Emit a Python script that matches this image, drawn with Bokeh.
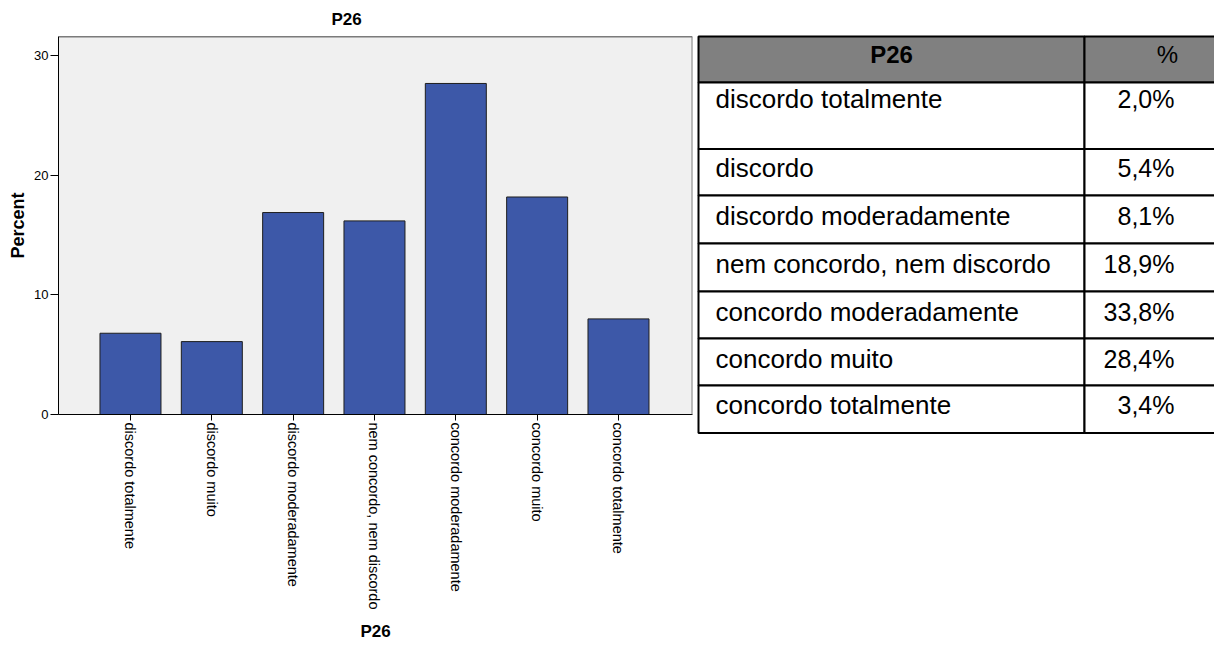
import math
from jinja2 import Template
from bokeh.plotting import figure
from bokeh.models import Range1d, FixedTicker, Span, ColumnDataSource
from bokeh.embed import file_html
from bokeh.resources import INLINE
from bokeh.core.properties import value

# ---------------- data ----------------
categories = ["discordo totalmente", "discordo muito", "discordo moderadamente",
              "nem concordo, nem discordo", "concordo moderadamente",
              "concordo muito", "concordo totalmente"]
percent_values = [6.8, 6.1, 16.9, 16.2, 27.7, 18.2, 8.0]
y_ticks = [0, 10, 20, 30]

table_header = ["P26", "%"]
table_labels = ["discordo totalmente", "discordo", "discordo moderadamente",
                "nem concordo, nem discordo", "concordo moderadamente",
                "concordo muito", "concordo totalmente"]
table_values = ["2,0%", "5,4%", "8,1%", "18,9%", "33,8%", "28,4%", "3,4%"]

FONT = "Liberation Sans"
H = 646

# ---------------- bar chart ----------------
positions = list(range(len(categories)))
src = ColumnDataSource(dict(x=positions, top=percent_values))
y_end = 31.63
x_start, x_end = -0.885, len(categories) - 1 + 0.91

p = figure(width=696, height=H, output_backend="svg", toolbar_location=None,
           x_range=Range1d(x_start, x_end), y_range=Range1d(0, y_end),
           min_border_left=58, min_border_right=4, min_border_top=36,
           min_border_bottom=232)
p.background_fill_color = "#F0F0F0"
p.border_fill_color = "white"
p.outline_line_color = None
p.xgrid.visible = False
p.ygrid.visible = False

p.vbar(x="x", top="top", bottom=0, width=0.75, source=src,
       fill_color="#3D58A8", line_color="#1E1E1E", line_width=1)

p.title.text = "P26"
p.title.align = "left"
p.title.offset = 273
p.title.standoff = 15
p.title.text_font = FONT
p.title.text_font_size = "17px"
p.title.text_font_style = "bold"
p.title.text_color = "black"

p.yaxis.ticker = FixedTicker(ticks=y_ticks)
p.yaxis.minor_tick_line_color = None
p.yaxis.major_tick_out = 8
p.yaxis.major_tick_in = 0
p.yaxis.major_label_standoff = 2
p.yaxis.major_label_text_font = FONT
p.yaxis.major_label_text_font_size = "13px"
p.yaxis.major_label_text_color = "black"
p.yaxis.axis_line_color = "black"
p.yaxis.major_tick_line_color = "black"
p.yaxis.axis_label = "Percent"
p.yaxis.axis_label_text_font = FONT
p.yaxis.axis_label_text_font_size = "18px"
p.yaxis.axis_label_text_font_style = "bold"
p.yaxis.axis_label_text_color = "black"
p.yaxis.axis_label_standoff = 3

p.xaxis.ticker = FixedTicker(ticks=positions)
p.xaxis.major_label_overrides = {i: c for i, c in zip(positions, categories)}
p.xaxis.major_label_orientation = -math.pi / 2
p.xaxis.minor_tick_line_color = None
p.xaxis.major_tick_out = 6
p.xaxis.major_tick_in = 0
p.xaxis.major_label_standoff = 2
p.xaxis.major_label_text_font = FONT
p.xaxis.major_label_text_font_size = "14.5px"
p.xaxis.major_label_text_color = "black"
p.xaxis.axis_line_color = "black"
p.xaxis.major_tick_line_color = "black"
p.xaxis.axis_label = "P26"
p.xaxis.axis_label_text_font = FONT
p.xaxis.axis_label_text_font_size = "17px"
p.xaxis.axis_label_text_font_style = "bold"
p.xaxis.axis_label_text_color = "black"
p.xaxis.axis_label_standoff = 10

p.add_layout(Span(location=y_end, dimension="width", line_color="black", line_width=1.5))
p.add_layout(Span(location=x_end, dimension="height", line_color="#808080", line_width=2))

# ---------------- table ----------------
TW = 518
t = figure(width=TW, height=H, output_backend="svg", toolbar_location=None,
           title=None, x_axis_type=None, y_axis_type=None,
           x_range=Range1d(0, TW), y_range=Range1d(H, 0), min_border=0)
t.outline_line_color = None
t.background_fill_color = "white"
t.border_fill_color = "white"
t.grid.visible = False

col_edges = [2, 388, 560]
table_top = 36
header_h = 46
row_heights = [66.5, 46.5, 48, 48, 47, 47, 47.5]
text_offsets = [16, 19, 20, 20, 20, 20, 19]

row_tops = [table_top]
cur = table_top + header_h
for h in row_heights:
    row_tops.append(cur)
    cur += h
row_bottoms = row_tops[1:] + [cur]

lefts, rights, tops, bottoms, fills = [], [], [], [], []
for i in range(len(row_tops)):
    for c in range(2):
        lefts.append(col_edges[c])
        rights.append(col_edges[c + 1])
        tops.append(row_tops[i])
        bottoms.append(row_bottoms[i])
        fills.append("#808080" if i == 0 else "white")
t.quad(left=lefts, right=rights, top=tops, bottom=bottoms,
       fill_color=fills, line_color="black", line_width=2)

# header text
t.text(x=[(col_edges[0] + col_edges[1]) / 2], y=[table_top + 18], text=[table_header[0]],
       text_font=value(FONT), text_font_size="24px", text_font_style="bold",
       text_align="center", text_baseline="middle", text_color="black")
t.text(x=[471], y=[table_top + 18], text=[table_header[1]],
       text_font=value(FONT), text_font_size="24px",
       text_align="center", text_baseline="middle", text_color="black")

# body text
body_tops = row_tops[1:]
text_y = [rt + off for rt, off in zip(body_tops, text_offsets)]
t.text(x=[19] * len(table_labels), y=text_y, text=table_labels,
       text_font=value(FONT), text_font_size="26px",
       text_align="left", text_baseline="middle", text_color="black")
t.text(x=[478] * len(table_values), y=text_y, text=table_values,
       text_font=value(FONT), text_font_size="25px",
       text_align="right", text_baseline="middle", text_color="black")

page_template = Template("""{% extends base %}
{% block postamble %}
<style>
html, body { margin: 0 !important; padding: 0 !important; }
body { display: flex !important; flex-direction: row; align-items: flex-start; }
</style>
{% endblock %}
""")

open("out.html", "w").write(file_html([p, t], INLINE, template=page_template))
